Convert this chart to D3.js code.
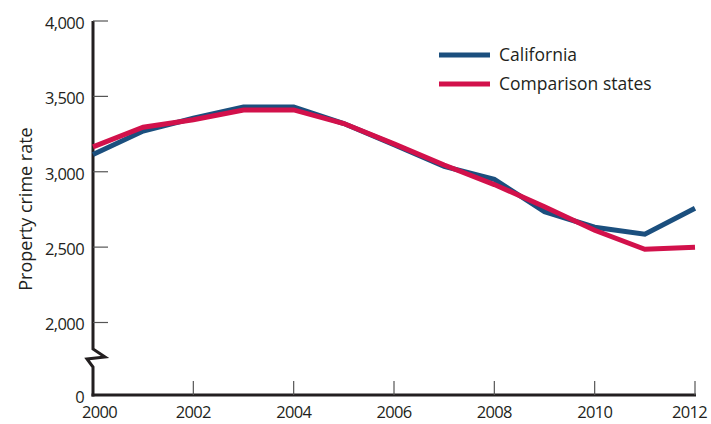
<!DOCTYPE html>
<html><head><meta charset="utf-8">
<script src="https://cdn.jsdelivr.net/npm/d3@7"></script>
<style>
body{margin:0;background:#fff;}
svg text{font-family:"Open Sans","Noto Sans",sans-serif;fill:#231f20;}
</style></head>
<body><svg id="c" width="711" height="424"></svg>
<script>
const years = [2000,2001,2002,2003,2004,2005,2006,2007,2008,2009,2010,2011,2012];
const california = [3115,3270,3355,3430,3430,3320,3180,3035,2950,2735,2632,2586,2758];
const comparison = [3165,3295,3345,3410,3410,3320,3185,3045,2915,2768,2612,2486,2499];
const seriesNames = ["California","Comparison states"];
const seriesColors = ["#1b4f7e","#d2114b"];
const yTicks = [0,2000,2500,3000,3500,4000];
const xTicks = [2000,2002,2004,2006,2008,2010,2012];

const svg = d3.select("#c");
const x = d3.scaleLinear().domain([2000,2012]).range([93,695]);
const y = d3.scaleLinear().domain([0,2000,4000]).range([395,322.5,21]);

// y axis line with break
const ax = x.range()[0];
svg.append("path")
  .attr("d", `M${ax},${y(4000)}V349L${ax+12},357L${ax-6},359L${ax},367V${y(0)+1.5}`)
  .attr("fill","none").attr("stroke","#231f20").attr("stroke-width",3).attr("stroke-linejoin","miter");
// x axis line
svg.append("line").attr("x1",ax-1.5).attr("x2",x(2012)+1).attr("y1",y(0)).attr("y2",y(0))
  .attr("stroke","#231f20").attr("stroke-width",3);

// y ticks
const fmt = d3.format(",");
const yg = svg.append("g");
yg.selectAll("line").data(yTicks.filter(d=>d>0)).join("line")
  .attr("x1",ax).attr("x2",ax+15).attr("y1",d=>y(d)).attr("y2",d=>y(d))
  .attr("stroke","#555").attr("stroke-width",1.2);
yg.selectAll("text").data(yTicks).join("text")
  .attr("x",ax-9).attr("y",d=>y(d)+2).attr("dy","0.35em").attr("text-anchor","end")
  .attr("font-size",16.5).attr("letter-spacing",-0.6).text(d=>fmt(d));

// x ticks
const xg = svg.append("g");
xg.selectAll("line").data(xTicks.filter(d=>d>2000)).join("line")
  .attr("x1",d=>x(d)).attr("x2",d=>x(d)).attr("y1",y(0)).attr("y2",y(0)-14)
  .attr("stroke","#555").attr("stroke-width",1.2);
const last = xTicks[xTicks.length-1], first = xTicks[0];
xg.selectAll("text").data(xTicks).join("text")
  .attr("x",d=>d===first?x(d)-11:d===last?x(d)+12:x(d))
  .attr("y",418)
  .attr("text-anchor",d=>d===first?"start":d===last?"end":"middle")
  .attr("font-size",16.5).attr("letter-spacing",-0.7).text(d=>d);

// y label
svg.append("text").attr("transform","translate(32,209) rotate(-90)")
  .attr("text-anchor","middle").attr("font-size",18).text("Property crime rate");

// lines
const line = d3.line().x((d,i)=>x(years[i])).y(d=>y(d));
[california, comparison].forEach((s,i)=>{
  svg.append("path").datum(s).attr("d",line).attr("fill","none")
    .attr("stroke",seriesColors[i]).attr("stroke-width",5).attr("stroke-linejoin","miter");
});

// legend
const lg = svg.append("g");
seriesNames.forEach((n,i)=>{
  const yy = 55 + i*29;
  lg.append("line").attr("x1",439).attr("x2",490).attr("y1",yy).attr("y2",yy)
    .attr("stroke",seriesColors[i]).attr("stroke-width",5);
  lg.append("text").attr("x",499).attr("y",yy).attr("dy","0.36em").attr("font-size",17.5).text(n);
});
</script></body></html>
